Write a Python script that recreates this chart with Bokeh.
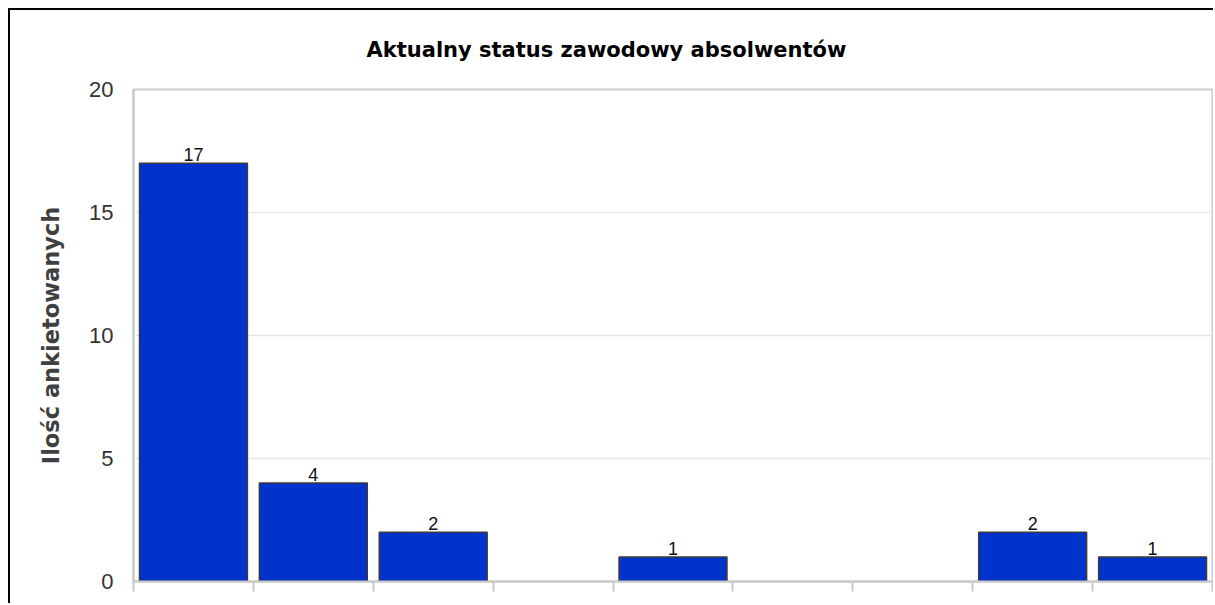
from bokeh.plotting import figure
from bokeh.models import Range1d, FixedTicker, ColumnDataSource, Title
from bokeh.core.properties import value
from bokeh.embed import file_html
from bokeh.resources import INLINE

# data
values = [17, 4, 2, 0, 1, 0, 0, 2, 1]
slots = list(range(len(values)))
y_ticks = [0, 5, 10, 15, 20]
title_text = "Aktualny status zawodowy absolwentów"
y_label = "Ilość ankietowanych"

FONT = "Liberation Sans"
BFONT = "DejaVu Sans"

xs = [i + 0.5 for i in slots]
# zero-height bars are not drawn in the reference
nz_x = [x for x, v in zip(xs, values) if v > 0]
nz_v = [v for v in values if v > 0]
src = ColumnDataSource(dict(x=nz_x, top=nz_v))
lab_src = ColumnDataSource(dict(x=nz_x, y=nz_v, t=[str(v) for v in nz_v]))

p = figure(width=1205, height=595, output_backend="svg", toolbar_location=None,
           x_range=Range1d(0, len(values)), y_range=Range1d(0, 20),
           min_border_left=123, min_border_top=79, min_border_right=3,
           min_border_bottom=24)
p.styles = {"margin-left": "8px", "margin-top": "8px",
            "border-top": "2px solid black", "border-left": "2px solid black"}

t = Title(text=title_text, align="left", offset=233, standoff=52,
          vertical_align="top",
          text_font=BFONT, text_font_size="21px", text_font_style="bold",
          text_color="#000000")
p.add_layout(t, "above")

p.vbar(x="x", top="top", width=0.9, bottom=0, source=src,
       fill_color="#0033CC", line_color="#3a3a3a", line_width=1.5)
p.text(x="x", y="y", text="t", source=lab_src, text_align="center",
       text_baseline="bottom", y_offset=-2, text_font=value(FONT),
       text_font_size="18px", text_color="#111111")

p.outline_line_color = "#cccccc"
p.outline_line_width = 2
p.background_fill_color = "white"
p.border_fill_color = "white"

p.xgrid.visible = False
p.ygrid.ticker = FixedTicker(ticks=y_ticks)
p.ygrid.grid_line_color = "#e6e6e6"
p.ygrid.grid_line_width = 1.5

# boundary ticks between categories drawn as minor ticks (no labels)
p.xaxis.ticker = FixedTicker(ticks=[], minor_ticks=slots + [len(values)])
p.xaxis.axis_line_color = "#c8c8c8"
p.xaxis.axis_line_width = 2
p.xaxis.minor_tick_line_color = "#c8c8c8"
p.xaxis.minor_tick_line_width = 2
p.xaxis.minor_tick_out = 10
p.xaxis.minor_tick_in = 0
p.xaxis.major_tick_line_color = None

p.yaxis.ticker = FixedTicker(ticks=y_ticks)
p.yaxis.axis_line_color = "#c8c8c8"
p.yaxis.axis_line_width = 2
p.yaxis.major_tick_line_color = None
p.yaxis.minor_tick_line_color = None
p.yaxis.major_tick_out = 0
p.yaxis.major_tick_in = 0
p.yaxis.major_label_standoff = 20
p.yaxis.major_label_text_font = FONT
p.yaxis.major_label_text_font_size = "22px"
p.yaxis.major_label_text_color = "#333333"
p.yaxis.axis_label = y_label
p.yaxis.axis_label_text_font = BFONT
p.yaxis.axis_label_text_font_size = "22.5px"
p.yaxis.axis_label_text_font_style = "bold"
p.yaxis.axis_label_text_color = "#404040"
p.yaxis.axis_label_standoff = 22

open("out.html", "w").write(file_html(p, INLINE))
